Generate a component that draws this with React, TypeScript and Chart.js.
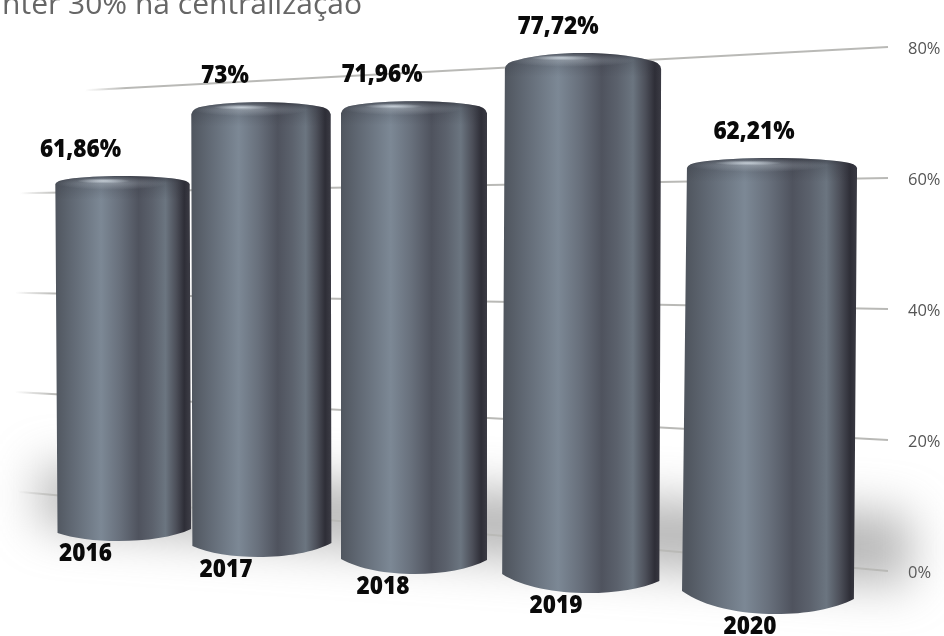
import React, { useEffect, useRef } from "react";
import { Chart, registerables } from "chart.js";

Chart.register(...registerables);

// Share of spending by year, in percent
const years = ["2016", "2017", "2018", "2019", "2020"];
const shares = [61.86, 73, 71.96, 77.72, 62.21];
const headline = "nter 30% na centralização";

// Perspective of each cylinder: depth scale, sideways and downward shift from the
// straight-on position, horizontal lean of the foot, and width scale
const depth = [0.901, 0.951, 1.003, 1.061, 1.119];
const shiftX = [32.5, -9, -36, -47, -38];
const shiftY = [-30, -14, 3, 22, 43];
const lean = [2, 1, 0, -2.5, -4.5];
const widthScale = [0.92, 0.955, 1.0, 1.07, 1.165];
// Height of the foot's curve at its left and right edge
const footLeft = [8, 11, 15, 19, 23];
const footRight = [12, 14, 14, 12, 15];
// Rise of the top face and drop of its rounded shoulders
const dome = [3, 4, 4, 7, 4];
const shoulderDrop = [8, 12, 12, 16, 10];
// Sideways offset of the captions from the cylinder's centre
const valueShift = [-42, -36, -32, -25, -18];
const yearShift = [-37, -35, -31, -27, -22];
// Where each gridline starts on the left, by tick value
const gridStart: Record<number, number> = { 0: 18, 20: 15, 40: 15, 60: 20, 80: 85 };

const VANISH_X = -2729;
const GRID_END = 888;
const UNIT_WIDTH = 146;
const LABEL_FONT = '800 24px "Open Sans"';
const LABEL_SQUEEZE = 0.94;

const percent = (v: number) => v.toLocaleString("pt-BR", { maximumFractionDigits: 2 }) + "%";

function caption(ctx: CanvasRenderingContext2D, text: string, x: number, y: number) {
  ctx.save();
  ctx.translate(x, y);
  ctx.scale(LABEL_SQUEEZE, 1);
  ctx.font = LABEL_FONT;
  ctx.fillStyle = "#0a0a0a";
  ctx.textAlign = "center";
  ctx.textBaseline = "middle";
  ctx.fillText(text, 0, 0);
  ctx.restore();
}

function drawCylinder(ctx: CanvasRenderingContext2D, chart: any, el: any, i: number) {
  const y = chart.scales.y;
  const zero = y.getPixelForValue(0);
  const foot = zero + shiftY[i];
  const top = foot - (zero - el.y) * depth[i];
  const width = el.width * widthScale[i];
  const l = el.x + shiftX[i] - width / 2;
  const r = l + width;
  const bl = l + lean[i] * 1.1;
  const br = r + lean[i] * 0.7;
  const m = (l + r) / 2;
  const sag = (footLeft[i] + footRight[i]) / 6;
  const d = dome[i];
  const s = shoulderDrop[i];

  ctx.save();
  ctx.beginPath();
  ctx.moveTo(l, top + s);
  ctx.quadraticCurveTo(l + 1, top + d + 1.5, l + 13, top + d);
  ctx.bezierCurveTo(l + width * 0.3, top - d / 3, l + width * 0.7, top - d / 3, r - 13, top + d);
  ctx.quadraticCurveTo(r - 1, top + d + 1.5, r, top + s);
  ctx.lineTo(br, foot - footRight[i]);
  ctx.bezierCurveTo(br - width * 0.24, foot + sag, bl + width * 0.24, foot + sag, bl, foot - footLeft[i]);
  ctx.closePath();
  ctx.clip();

  // Body shading across the cylinder
  const body = ctx.createLinearGradient(l, 0, r, 0);
  body.addColorStop(0, "#50565f");
  body.addColorStop(0.12, "#606873");
  body.addColorStop(0.34, "#7c8895");
  body.addColorStop(0.48, "#68707c");
  body.addColorStop(0.62, "#4f535e");
  body.addColorStop(0.72, "#5b616c");
  body.addColorStop(0.82, "#6b7580");
  body.addColorStop(0.9, "#4c4f59");
  body.addColorStop(0.96, "#2e2e37");
  body.addColorStop(1, "#3b3b44");
  ctx.fillStyle = body;
  ctx.fillRect(l - 8, top - 4, width + 16, foot - top + 8);

  // Rounded shoulder: darkens at the rim
  const shoulder = ctx.createLinearGradient(0, top, 0, top + 24);
  shoulder.addColorStop(0, "rgba(45,47,56,0.6)");
  shoulder.addColorStop(0.3, "rgba(45,47,56,0.22)");
  shoulder.addColorStop(1, "rgba(45,47,56,0)");
  ctx.fillStyle = shoulder;
  ctx.fillRect(l - 8, top - 4, width + 16, 30);

  // Highlight along the rim: a broad glow with a brighter core
  const glow = (cx: number, cy: number, rx: number, ry: number, alpha: number) => {
    ctx.save();
    ctx.translate(cx, cy);
    ctx.scale(rx, ry);
    const shine = ctx.createRadialGradient(0, 0, 0, 0, 0, 1);
    shine.addColorStop(0, `rgba(215,224,232,${alpha})`);
    shine.addColorStop(1, "rgba(215,224,232,0)");
    ctx.fillStyle = shine;
    ctx.beginPath();
    ctx.arc(0, 0, 1, 0, Math.PI * 2);
    ctx.fill();
    ctx.restore();
  };
  glow(l + width * 0.42, top + 7, width * 0.42, 7, 0.35);
  glow(l + width * 0.36, top + 5, width * 0.2, 2.6, 0.8);
  ctx.restore();

  // Captions for the value above and the year below
  caption(ctx, percent(shares[i]), m + valueShift[i], top - 26);
  caption(ctx, years[i], m + yearShift[i], foot + 13);
}

const perspectivePlugin = {
  id: "perspective",
  beforeDatasetsDraw(chart: any) {
    const { ctx, scales } = chart;
    const y = scales.y;
    const horizon = y.getPixelForValue(50.3);

    // Soft shadow lying on the floor behind the cylinders
    ctx.save();
    ctx.filter = "blur(24px)";
    ctx.fillStyle = "rgba(120,120,120,0.55)";
    ctx.beginPath();
    ctx.moveTo(40, 466);
    ctx.lineTo(910, 515);
    ctx.lineTo(910, 585);
    ctx.lineTo(40, 525);
    ctx.closePath();
    ctx.fill();
    ctx.restore();

    // Gridlines converging towards the vanishing point on the left
    ctx.save();
    ctx.lineWidth = 2;
    y.ticks.forEach((t: any) => {
      const yr = y.getPixelForValue(t.value);
      const x0 = gridStart[t.value];
      const slope = (yr - horizon) / (GRID_END - VANISH_X);
      const y0 = yr - slope * (GRID_END - x0);
      const stroke = ctx.createLinearGradient(x0, 0, x0 + 40, 0);
      stroke.addColorStop(0, "rgba(185,185,182,0)");
      stroke.addColorStop(1, "rgba(185,185,182,1)");
      ctx.strokeStyle = stroke;
      ctx.beginPath();
      ctx.moveTo(x0, y0);
      ctx.lineTo(GRID_END, yr);
      ctx.stroke();
    });
    ctx.restore();

    // Headline running off the top of the page
    ctx.save();
    ctx.font = '400 30px "Open Sans"';
    ctx.fillStyle = "#666666";
    ctx.textAlign = "right";
    ctx.textBaseline = "alphabetic";
    ctx.fillText(headline, 362, 14);
    ctx.restore();
  },
  beforeDatasetDraw(chart: any, args: any) {
    args.meta.data.forEach((el: any, i: number) => drawCylinder(chart.ctx, chart, el, i));
    return false;
  },
};

export default function App() {
  const canvasRef = useRef<HTMLCanvasElement>(null);

  useEffect(() => {
    document.body.style.margin = "0";
    const chart = new Chart(canvasRef.current!, {
      type: "bar",
      data: {
        labels: years,
        datasets: [{ data: shares, barThickness: UNIT_WIDTH, backgroundColor: "#666c76" }],
      },
      options: {
        responsive: false,
        animation: false,
        layout: { padding: { top: 47, bottom: 65, left: 0, right: 0 } },
        plugins: { legend: { display: false }, tooltip: { enabled: false } },
        scales: {
          x: { display: false },
          y: {
            position: "right",
            min: 0,
            max: 80,
            afterFit: (scale: any) => {
              scale.width = 44;
            },
            grid: { display: false },
            border: { display: false },
            ticks: {
              stepSize: 20,
              padding: 0,
              labelOffset: 2,
              color: "#555555",
              font: { family: '"Open Sans"', size: 16.5 },
              callback: (v: any) => v + "%",
            },
          },
        },
      },
      plugins: [perspectivePlugin],
    });
    return () => chart.destroy();
  }, []);

  return <canvas ref={canvasRef} width={944} height={636} style={{ display: "block" }} />;
}
